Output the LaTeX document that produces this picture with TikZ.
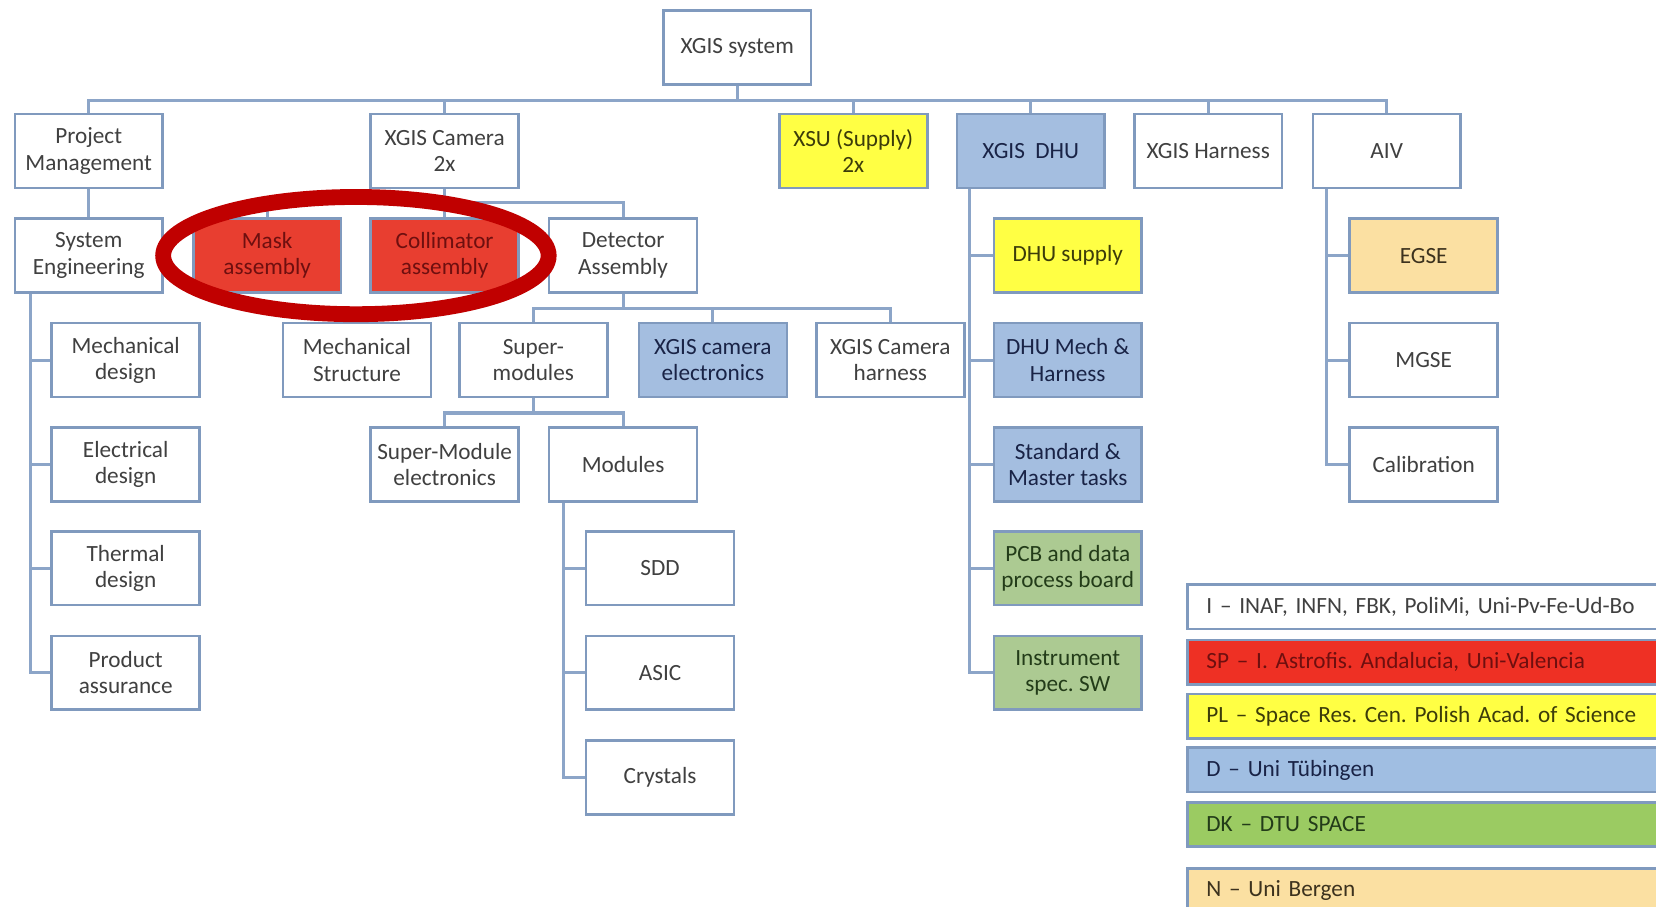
\documentclass[tikz,border=0pt]{standalone}
\usepackage{fontspec}
\setmainfont{Carlito}
\usetikzlibrary{calc}
\frenchspacing
\definecolor{bordc}{RGB}{128,154,190}
\definecolor{connc}{RGB}{140,165,200}
\definecolor{txtc}{RGB}{64,64,64}
\definecolor{yel}{RGB}{255,255,68}
\definecolor{blu}{RGB}{164,190,224}
\definecolor{redf}{RGB}{232,62,48}
\definecolor{grn}{RGB}{172,202,146}
\definecolor{tan}{RGB}{251,224,162}
\definecolor{lgred}{RGB}{238,48,36}
\definecolor{lggrn}{RGB}{155,203,98}
\definecolor{lgblu}{RGB}{160,190,226}
\definecolor{ellc}{RGB}{192,0,0}
\tikzset{
  box/.style={draw=bordc, line width=1.2pt, fill=white, minimum width=70pt, minimum height=35pt,
    align=center, text=txtc, inner sep=1pt, font=\fontsize{11pt}{12.5pt}\selectfont},
  yelbox/.style={box, fill=yel, text={rgb,255:red,60;green,60;blue,10}},
  blubox/.style={box, fill=blu, text={rgb,255:red,25;green,35;blue,70}},
  redbox/.style={box, fill=redf, text={rgb,255:red,110;green,15;blue,15}},
  grnbox/.style={box, fill=grn, text={rgb,255:red,35;green,60;blue,25}},
  tanbox/.style={box, fill=tan, text={rgb,255:red,60;green,50;blue,30}},
  conn/.style={draw=connc, line width=1.5pt},
  leg/.style={draw=bordc, line width=1.3pt, anchor=west, minimum width=240pt, minimum height=21pt,
    text width=222pt, align=left, inner xsep=8.5pt, font=\fontsize{11pt}{12.5pt}\selectfont},
}
\begin{document}
\begin{tikzpicture}[x=0.5pt,y=-0.5pt]
\useasboundingbox (0,0) rectangle (1568,858);
\clip (0,0) rectangle (1568,858);
\fill[white] (0,0) rectangle (1568,858);
% nodes
\node[box] (sys) at (698,45) {XGIS system};
\node[box] (pm) at (84,143) {Project\\Management};
\node[box] (cam) at (421,143) {XGIS Camera\\2x};
\node[yelbox] (xsu) at (808,143) {XSU (Supply)\\2x};
\node[blubox] (dhu) at (976,143) {XGIS\ \ DHU};
\node[box] (har) at (1144,143) {XGIS Harness};
\node[box] (aiv) at (1313,143) {AIV};
\node[box] (se) at (84,242) {System\\Engineering};
\node[redbox] (mask) at (253,242) {Mask\\assembly};
\node[redbox] (coll) at (421,242) {Collimator\\assembly};
\node[box] (det) at (590,242) {Detector\\Assembly};
\node[box] (ms) at (338,341) {Mechanical\\Structure};
\node[box] (sm) at (505,341) {Super-\\modules};
\node[blubox] (cel) at (675,341) {XGIS camera\\electronics};
\node[box] (chr) at (843,341) {XGIS Camera\\harness};
\node[box] (sme) at (421,440) {Super-Module\\electronics};
\node[box] (mod) at (590,440) {Modules};
\node[box] (sdd) at (625,538) {SDD};
\node[box] (asic) at (625,637) {ASIC};
\node[box] (cry) at (625,736) {Crystals};
\node[box] (md) at (119,341) {Mechanical\\design};
\node[box] (ed) at (119,440) {Electrical\\design};
\node[box] (td) at (119,538) {Thermal\\design};
\node[box] (pa) at (119,637) {Product\\assurance};
\node[yelbox] (dsup) at (1011,242) {DHU supply};
\node[blubox] (dmh) at (1011,341) {DHU Mech \&\\Harness};
\node[blubox] (smt) at (1011,440) {Standard \&\\Master tasks};
\node[grnbox] (pcb) at (1011,538) {PCB and data\\process board};
\node[grnbox] (isw) at (1011,637) {Instrument\\spec. SW};
\node[tanbox] (egse) at (1348,242) {EGSE};
\node[box] (mgse) at (1348,341) {MGSE};
\node[box] (cal) at (1348,440) {Calibration};
% connectors
\coordinate (b0) at (698,95);
\draw[conn] (sys.south) -- (b0);
\draw[conn] (pm.north) |- (b0) -| (aiv.north);
\draw[conn] (cam.north) -- (cam.north |- b0);
\draw[conn] (xsu.north) -- (xsu.north |- b0);
\draw[conn] (dhu.north) -- (dhu.north |- b0);
\draw[conn] (har.north) -- (har.north |- b0);
\draw[conn] (pm.south) -- (se.north);
\coordinate (b1) at (421,192);
\draw[conn] (cam.south) -- (b1);
\draw[conn] (mask.north) |- (b1) -| (det.north);
\draw[conn] (coll.north) -- (b1);
\coordinate (b2) at (590,292);
\draw[conn] (det.south) -- (b2);
\draw[conn] (sm.north) |- (b2) -| (chr.north);
\draw[conn] (cel.north) -- (cel.north |- b2);
\coordinate (b3) at (505,391);
\draw[conn] (sm.south) -- (b3);
\draw[conn] (sme.north) |- (b3) -| (mod.north);
\coordinate (sL) at ($(se.south west)+(16,0)$);
\draw[conn] (sL) |- (md.west);
\draw[conn] (sL) |- (ed.west);
\draw[conn] (sL) |- (td.west);
\draw[conn] (sL) |- (pa.west);
\coordinate (mL) at ($(mod.south west)+(15,0)$);
\draw[conn] (mL) |- (sdd.west);
\draw[conn] (mL) |- (asic.west);
\draw[conn] (mL) |- (cry.west);
\coordinate (dL) at ($(dhu.south west)+(13,0)$);
\draw[conn] (dL) |- (dsup.west);
\draw[conn] (dL) |- (dmh.west);
\draw[conn] (dL) |- (smt.west);
\draw[conn] (dL) |- (pcb.west);
\draw[conn] (dL) |- (isw.west);
\coordinate (aL) at ($(aiv.south west)+(14,0)$);
\draw[conn] (aL) |- (egse.west);
\draw[conn] (aL) |- (mgse.west);
\draw[conn] (aL) |- (cal.west);
% legend
\node[leg, fill=white, text=txtc] (l1) at (1123,574.5) {I -- INAF, INFN, FBK, PoliMi, Uni-Pv-Fe-Ud-Bo};
\node[leg, fill=lgred, text={rgb,255:red,110;green,15;blue,15}] (l2) at (1123,627) {SP -- I. Astrofis. Andalucia, Uni-Valencia};
\node[leg, fill=yel, text={rgb,255:red,60;green,60;blue,10}] (l3) at (1123,678) {PL -- Space Res. Cen. Polish Acad. of Science};
\node[leg, fill=lgblu, text={rgb,255:red,25;green,35;blue,70}] (l4) at (1123,729) {D -- Uni Tübingen};
\node[leg, fill=lggrn, text={rgb,255:red,35;green,60;blue,25}] (l5) at (1123,780.5) {DK -- DTU SPACE};
\node[leg, fill=tan, text={rgb,255:red,60;green,50;blue,30}] (l6) at (1123,843) {N -- Uni Bergen};
% highlight ellipse
\draw[draw=ellc, line width=7.5pt] (337,242) ellipse [x radius=91.25pt, y radius=27.75pt];
\end{tikzpicture}
\end{document}
